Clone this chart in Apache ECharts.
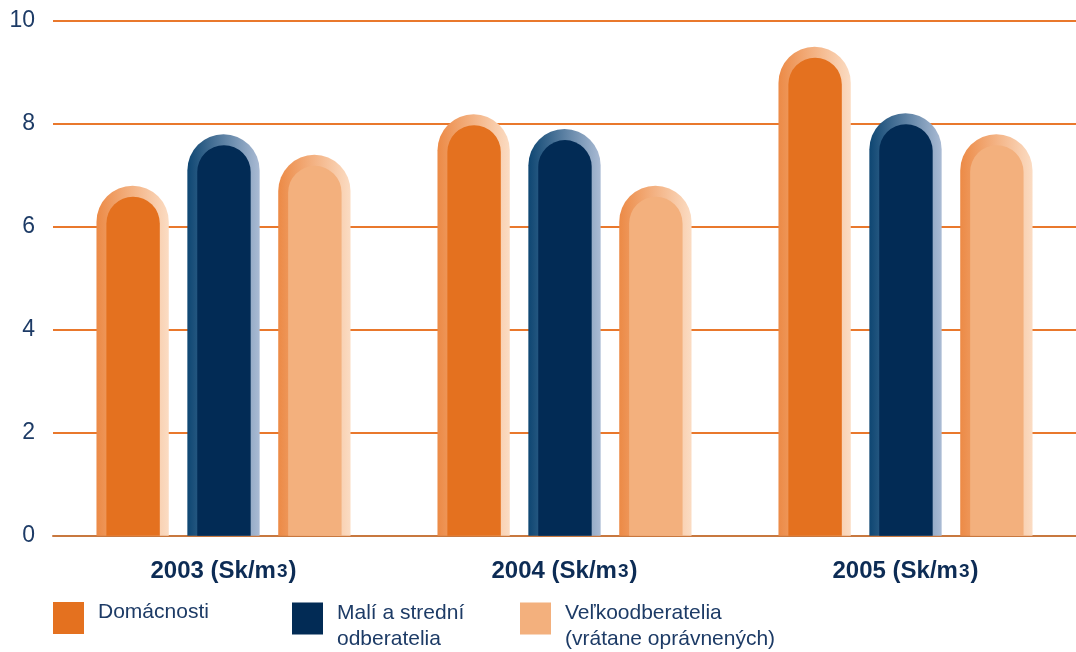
<!DOCTYPE html>
<html><head><meta charset="utf-8">
<script src="https://cdn.jsdelivr.net/npm/echarts/dist/echarts.min.js"></script>
<style>html,body{margin:0;padding:0;background:#fff}#c{width:1076px;height:652px}</style>
</head><body><div id="c"></div>
<script>
// ---- data ----
const categories = ['2003', '2004', '2005'];
const unitLabel = ' (Sk/m';
const seriesNames = ['Domácnosti', 'Malí a strední\nodberatelia', 'Veľkoodberatelia\n(vrátane oprávnených)'];
const domacnosti = [6.80, 8.19, 9.50];
const maliStredni = [7.80, 7.90, 8.21];
const velkoodberatelia = [7.40, 6.80, 7.80];
const yMin = 0, yMax = 10, yStep = 2;

// ---- styles ----
const FONT = '"Liberation Sans", Arial, sans-serif';
const TEXT = '#1d3b66';
const styles = [
  { inner: '#e4711f', left: '#ec8a46', right: '#fbdcc3' },
  { inner: '#022b55', left: '#0e4672', right: '#aabbd4' },
  { inner: '#f3b07d', left: '#ec8a46', right: '#fbdcc3' }
];
const seriesData = [domacnosti, maliStredni, velkoodberatelia];

function makeRender(si) {
  const st = styles[si];
  return function (params, api) {
    const cat = api.value(0), val = api.value(1);
    const top = api.coord([cat, val]);
    const base = api.coord([cat, 0]);
    const catW = api.size([1, 0])[0];
    const bw = catW * 0.212, pitch = catW * 0.2665;
    const cx = top[0] + (si - 1) * pitch;
    const x0 = cx - bw / 2;
    const h = base[1] - top[1];
    const R = bw / 2;
    const insL = bw * 0.137, insR = bw * 0.124, insT = 11;
    const iw = bw - insL - insR;
    return {
      type: 'group',
      children: [
        { type: 'rect', shape: { x: x0, y: top[1], width: bw, height: h, r: [R, R, 0, 0] },
          style: { fill: new echarts.graphic.LinearGradient(0, 0, 1, 0, [
            { offset: 0, color: st.left }, { offset: 1, color: st.right }]) } },
        { type: 'rect', shape: { x: x0 + insL, y: top[1] + insT, width: iw, height: h - insT, r: [iw / 2, iw / 2, 0, 0] },
          style: { fill: st.inner } }
      ]
    };
  };
}

const legendLeft = [53, 292, 520];
const legendTop = [602, 592, 592];

function legendText(name) {
  const lines = name.split('\n');
  if (lines.length === 1) return '{t|' + lines[0] + '}\n{e| }';
  return '{f| }\n' + lines.map(l => '{t|' + l + '}').join('\n');
}

const option = {
  animation: false,
  color: styles.map(s => s.inner),
  grid: { left: 53, top: 21, width: 1033, height: 514.8 },
  xAxis: {
    type: 'category',
    data: categories,
    axisTick: { show: false },
    axisLine: { lineStyle: { color: '#c8783f', width: 2 } },
    axisLabel: {
      margin: 24,
      formatter: v => '{b|' + v + unitLabel + '}{s|3}{b|)}',
      rich: {
        b: { fontFamily: FONT, fontSize: 24, fontWeight: 'bold', color: '#0d2c55' },
        s: { fontFamily: FONT, fontSize: 19, fontWeight: 'bold', color: '#0d2c55', padding: [0, 1, 0, 1] }
      }
    }
  },
  yAxis: {
    type: 'value', min: yMin, max: yMax, interval: yStep,
    axisLine: { show: false }, axisTick: { show: false },
    axisLabel: { margin: 18, fontFamily: FONT, fontSize: 23, color: TEXT },
    splitLine: { lineStyle: { color: '#e9782c', width: 2 } }
  },
  legend: seriesNames.map((n, i) => ({
    data: [n], left: legendLeft[i], top: legendTop[i], padding: 0,
    icon: 'rect', itemWidth: 31, itemHeight: 32,
    selectedMode: false,
    formatter: legendText,
    textStyle: {
      padding: [0, 0, 0, 9],
      rich: {
        t: { fontFamily: FONT, fontSize: 21, color: TEXT, lineHeight: 26 },
        e: { fontSize: 1, lineHeight: 11 },
        f: { fontSize: 1, lineHeight: 15 }
      }
    }
  })),
  series: seriesData.map((arr, si) => ({
    type: 'custom',
    name: seriesNames[si],
    itemStyle: { color: styles[si].inner },
    renderItem: makeRender(si),
    encode: { x: 0, y: 1 },
    data: arr.map((v, ci) => [ci, v])
  }))
};

const chart = echarts.init(document.getElementById('c'), null, { renderer: 'canvas' });
chart.setOption(option);
</script>
</body></html>
